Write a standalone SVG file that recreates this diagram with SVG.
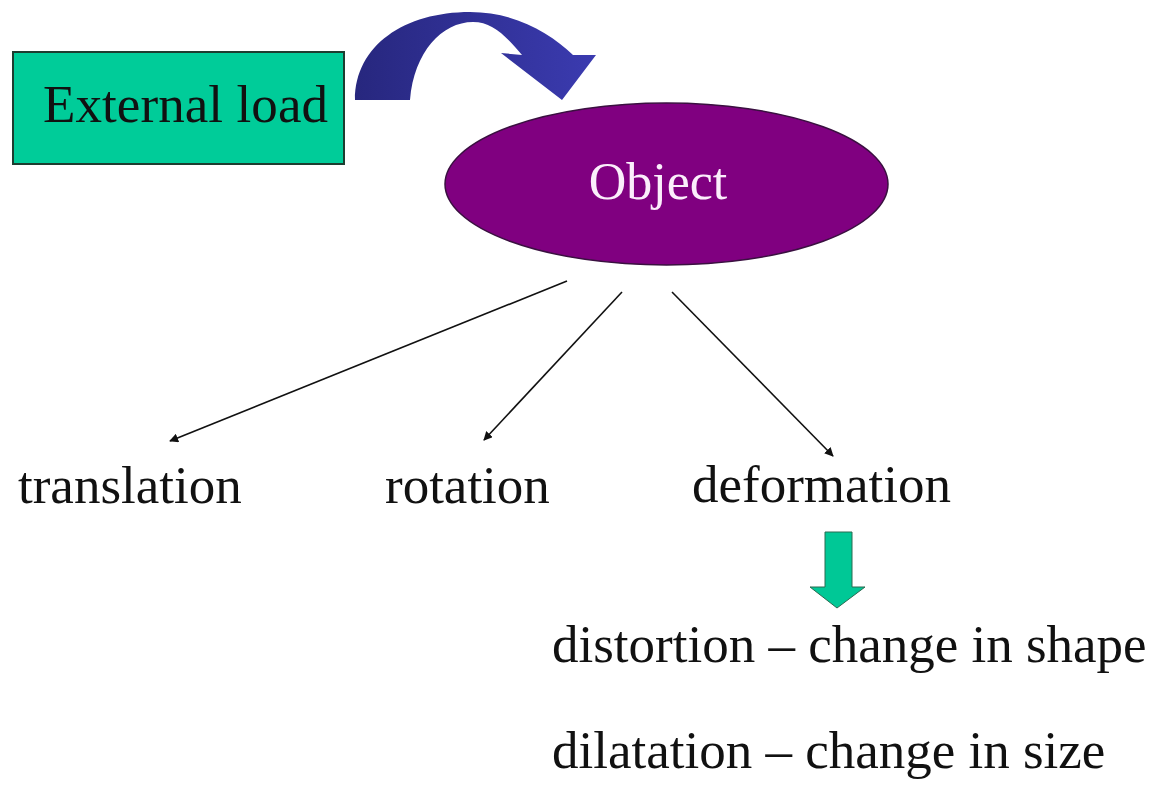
<svg xmlns="http://www.w3.org/2000/svg" width="1156" height="793" viewBox="0 0 1156 793">
<defs>
<style>
.t{font-family:"Liberation Serif","Times New Roman",serif;font-size:53px;fill:#111}
.conn{stroke:#111;stroke-width:1.6;fill:none;marker-end:url(#ah)}
</style>
<marker id="ah" viewBox="0 0 10 10" refX="9" refY="5" markerWidth="9" markerHeight="9" markerUnits="userSpaceOnUse" orient="auto">
<path d="M0,0 L10,5 L0,10 Z" fill="#111"/>
</marker>
<linearGradient id="blue" x1="0" y1="0" x2="1" y2="0">
<stop offset="0" stop-color="#27277e"/>
<stop offset="1" stop-color="#3b3bb0"/>
</linearGradient>
</defs>
<rect width="1156" height="793" fill="#fff"/>
<g id="external-load">
<rect x="13" y="52" width="331" height="112" fill="#00cc99" stroke="#1d3d30" stroke-width="2"/>
<text class="t" x="43" y="122" textLength="285">External load</text>
</g>
<g id="load-arrow">
<path d="M355,100 C355,45 405,12 470,12 C515,12 550,33 573,55 L596,55 L562,100 L501,53 L522,55 C505,35 492,22 473,22 C442,22 414,52 410,100 Z" fill="url(#blue)"/>
</g>
<g id="object">
<ellipse cx="666.5" cy="184" rx="221.5" ry="81" fill="#800080" stroke="#3a1040" stroke-width="1.5"/>
<text class="t" x="658" y="199" text-anchor="middle" style="font-size:52px;fill:#fbeefb">Object</text>
</g>
<g id="connectors">
<line class="conn" x1="567" y1="281" x2="170" y2="441"/>
<line class="conn" x1="622" y1="292" x2="484" y2="440"/>
<line class="conn" x1="672" y1="292" x2="833" y2="456"/>
</g>
<g id="translation"><text class="t" x="18" y="503">translation</text></g>
<g id="rotation"><text class="t" x="385" y="503">rotation</text></g>
<g id="deformation"><text class="t" x="692" y="502">deformation</text></g>
<g id="down-arrow">
<path d="M825,532 L852,532 L852,587 L865,587 L837,608 L810,587 L825,587 Z" fill="#00c896" stroke="#2a6a50" stroke-width="1"/>
</g>
<g id="distortion"><text class="t" x="552" y="662">distortion – change in shape</text></g>
<g id="dilatation"><text class="t" x="552" y="768">dilatation – change in size</text></g>
</svg>
